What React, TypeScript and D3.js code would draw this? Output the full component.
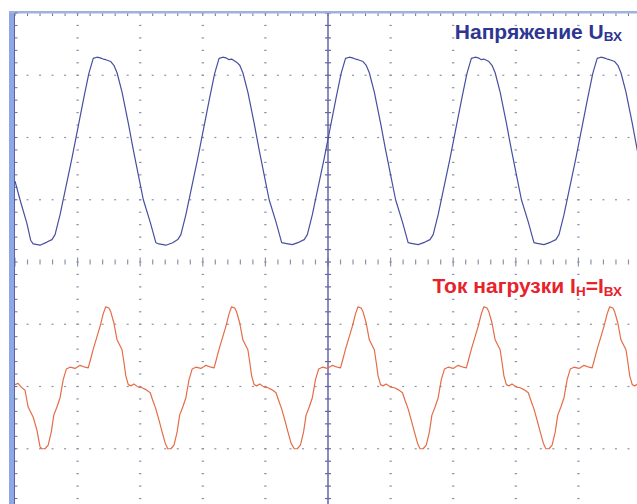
import { useEffect, useRef } from "react";
import * as d3 from "d3";

const W = 637;
const H = 504;

// time in ms (10 ms per division), amplitude in screen divisions from the centre line
const voltageTrace: [number, number][] = [
  [0, 1.3], [0.8, 1.0], [1.9, 0.62], [2.5, 0.35],
  [2.9, 0.29], [4.0, 0.27], [5.1, 0.32], [5.9, 0.36], [6.4, 0.44], [7.2, 0.76], [9.1, 1.67], [11.0, 2.64], [11.8, 3.03],
  [12.5, 3.27], [13.1, 3.29], [13.6, 3.28], [14.1, 3.26], [14.5, 3.25], [15.3, 3.22], [15.8, 3.16], [16.3, 3.04],
  [17.1, 2.73], [18.1, 2.23], [18.9, 1.8], [19.7, 1.4], [20.5, 1.0], [21.6, 0.64], [22.5, 0.31],
  [23.0, 0.29], [24.1, 0.27], [25.2, 0.31], [26.0, 0.36], [26.5, 0.44], [27.3, 0.76], [29.2, 1.67], [31.1, 2.64], [31.9, 3.03],
  [32.6, 3.27], [33.2, 3.29], [33.7, 3.28], [34.2, 3.25], [34.6, 3.26], [35.4, 3.21], [35.9, 3.16], [36.4, 3.04],
  [37.2, 2.73], [38.2, 2.23], [39.0, 1.8], [39.8, 1.4], [40.6, 1.0], [41.7, 0.64], [42.6, 0.31],
  [43.2, 0.3], [44.3, 0.28], [45.4, 0.32], [46.2, 0.36], [46.7, 0.44], [47.5, 0.76], [49.4, 1.67], [51.3, 2.64], [52.1, 3.03],
  [52.8, 3.27], [53.4, 3.29], [53.9, 3.28], [54.4, 3.26], [54.8, 3.25], [55.6, 3.22], [56.1, 3.16], [56.6, 3.04],
  [57.4, 2.73], [58.4, 2.23], [59.2, 1.8], [60.0, 1.4], [60.8, 1.0], [61.9, 0.64], [62.8, 0.31],
  [63.3, 0.3], [64.4, 0.28], [65.5, 0.32], [66.3, 0.36], [66.8, 0.44], [67.6, 0.76], [69.5, 1.67], [71.4, 2.64], [72.2, 3.03],
  [72.9, 3.27], [73.5, 3.29], [74.0, 3.28], [74.5, 3.25], [74.9, 3.26], [75.7, 3.22], [76.2, 3.16], [76.7, 3.04],
  [77.5, 2.73], [78.5, 2.23], [79.3, 1.8], [80.1, 1.4], [80.9, 1.0], [82.0, 0.64], [82.9, 0.31],
  [83.4, 0.3], [84.5, 0.28], [85.6, 0.32], [86.4, 0.36], [86.9, 0.44], [87.7, 0.76], [89.6, 1.67], [91.5, 2.64], [92.3, 3.03],
  [93.0, 3.27], [93.6, 3.29], [94.1, 3.28], [94.6, 3.26], [95.0, 3.25], [95.8, 3.22], [96.3, 3.16], [96.8, 3.04],
  [97.6, 2.73], [98.6, 2.23], [99.4, 1.8], [100.2, 1.4],
];

const currentTrace: [number, number][] = [
  [0, -1.97], [0.5, -1.95], [1.0, -2.01], [1.6, -2.06], [2.1, -2.33], [2.9, -2.49], [3.5, -2.7],
  [4.0, -2.97], [4.3, -3.0], [4.8, -3.0], [5.3, -2.94], [5.8, -2.73], [6.2, -2.46], [6.7, -2.33], [7.2, -2.18], [7.7, -1.89],
  [8.2, -1.72], [8.8, -1.69], [9.6, -1.71], [10.4, -1.66], [11.2, -1.69], [11.7, -1.7], [12.0, -1.59], [12.5, -1.4],
  [13.1, -1.2], [13.6, -1.03], [14.1, -0.83], [14.5, -0.72], [15.0, -0.74], [15.3, -0.8], [15.8, -0.98], [16.3, -1.25],
  [16.8, -1.35], [17.1, -1.41], [17.4, -1.61], [17.7, -1.83], [18.1, -1.97], [18.5, -1.99], [19.0, -1.96], [19.7, -2.01],
  [20.3, -2.02], [20.9, -2.05], [21.6, -2.1], [22.0, -2.22], [22.5, -2.36], [23.0, -2.54], [23.5, -2.73], [24.0, -2.91],
  [24.4, -3.0], [24.9, -3.0], [25.4, -2.94], [25.9, -2.73], [26.3, -2.46], [26.8, -2.33], [27.3, -2.18], [27.8, -1.89],
  [28.3, -1.72], [28.9, -1.69], [29.7, -1.71], [30.5, -1.66], [31.3, -1.69], [31.8, -1.7], [32.1, -1.59], [32.6, -1.4],
  [33.2, -1.2], [33.7, -1.03], [34.2, -0.83], [34.6, -0.72], [35.1, -0.74], [35.4, -0.8], [35.9, -0.98], [36.4, -1.25],
  [36.9, -1.35], [37.2, -1.41], [37.5, -1.61], [37.8, -1.83], [38.2, -1.97], [38.6, -1.99], [39.1, -1.96], [39.8, -2.01],
  [40.4, -2.02], [41.0, -2.05], [41.7, -2.1], [42.1, -2.22], [42.6, -2.36], [43.1, -2.54], [43.6, -2.73], [44.1, -2.91],
  [44.6, -3.0], [45.1, -3.0], [45.6, -2.94], [46.1, -2.73], [46.5, -2.46], [47.0, -2.33], [47.5, -2.18], [48.0, -1.89],
  [48.5, -1.72], [49.1, -1.69], [49.9, -1.71], [50.7, -1.66], [51.5, -1.69], [52.0, -1.7], [52.3, -1.59], [52.8, -1.4],
  [53.4, -1.2], [53.9, -1.03], [54.4, -0.83], [54.8, -0.72], [55.3, -0.74], [55.6, -0.8], [56.1, -0.98], [56.6, -1.25],
  [57.1, -1.35], [57.4, -1.41], [57.7, -1.61], [58.0, -1.83], [58.4, -1.97], [58.8, -1.99], [59.3, -1.96], [60.0, -2.01],
  [60.6, -2.02], [61.2, -2.05], [61.9, -2.1], [62.3, -2.22], [62.8, -2.36], [63.3, -2.54], [63.8, -2.73], [64.3, -2.91],
  [64.7, -3.0], [65.2, -3.0], [65.7, -2.94], [66.2, -2.73], [66.6, -2.46], [67.1, -2.33], [67.6, -2.18], [68.1, -1.89],
  [68.6, -1.72], [69.2, -1.69], [70.0, -1.71], [70.8, -1.66], [71.6, -1.69], [72.1, -1.7], [72.4, -1.59], [72.9, -1.4],
  [73.5, -1.2], [74.0, -1.03], [74.5, -0.83], [74.9, -0.72], [75.4, -0.74], [75.7, -0.8], [76.2, -0.98], [76.7, -1.25],
  [77.2, -1.35], [77.5, -1.41], [77.8, -1.61], [78.1, -1.83], [78.5, -1.97], [78.9, -1.99], [79.4, -1.96], [80.1, -2.01],
  [80.7, -2.02], [81.3, -2.05], [82.0, -2.1], [82.4, -2.22], [82.9, -2.36], [83.4, -2.54], [83.9, -2.73], [84.4, -2.91],
  [84.8, -3.0], [85.3, -3.0], [85.8, -2.94], [86.3, -2.73], [86.7, -2.46], [87.2, -2.33], [87.7, -2.18], [88.2, -1.89],
  [88.7, -1.72], [89.3, -1.69], [90.1, -1.71], [90.9, -1.66], [91.7, -1.69], [92.2, -1.7], [92.5, -1.59], [93.0, -1.4],
  [93.6, -1.2], [94.1, -1.03], [94.6, -0.83], [95.0, -0.72], [95.5, -0.74], [95.8, -0.8], [96.3, -0.98], [96.8, -1.25],
  [97.3, -1.35], [97.6, -1.41], [97.9, -1.61], [98.2, -1.83], [98.6, -1.97], [99.0, -1.99], [99.5, -1.96], [100.2, -2.01],
];

const timeRange = [0, 100];
const divRange = [-4, 4];
const gridTimes = [10, 20, 30, 40, 60, 70, 80, 90];
const gridDivs = [-3, -2, -1, 1, 2, 3];

const voltageLabel = ["Напряжение U", "ВХ"];
const currentLabel = ["Ток нагрузки I", "Н", "=I", "ВХ"];

export default function App() {
  const svgRef = useRef<SVGSVGElement>(null);

  useEffect(() => {
    if (!svgRef.current) return;
    const svg = d3.select(svgRef.current);
    svg.selectAll("*").remove();

    const x = d3.scaleLinear().domain(timeRange).range([15, 641]);
    const y = d3.scaleLinear().domain(divRange).range([511, 13]);

    svg.append("rect").attr("width", W).attr("height", H).attr("fill", "#fff");

    const minorT = d3.range(timeRange[0], timeRange[1] + 0.01, 2);
    const minorV = d3.range(divRange[0], divRange[1] + 0.01, 0.2);
    const grid = svg.append("g").attr("fill", "#8c93ab");

    // dotted graticule
    gridDivs.forEach((v) => {
      grid.selectAll(null).data(minorT).enter().append("rect")
        .attr("x", (t) => x(t) - 1).attr("y", y(v) - 0.6)
        .attr("width", 2).attr("height", 1.2);
    });
    gridTimes.forEach((t) => {
      grid.selectAll(null).data(minorV).enter().append("rect")
        .attr("x", x(t) - 1.2).attr("y", (v) => y(v) - 0.6)
        .attr("width", 2.4).attr("height", 1.2);
    });

    // centre horizontal tick row
    grid.selectAll(null).data(minorT).enter().append("line")
      .attr("x1", (t) => x(t)).attr("x2", (t) => x(t))
      .attr("y1", (t) => y(0) - (t % 10 === 0 ? 4.5 : 2.5))
      .attr("y2", (t) => y(0) + (t % 10 === 0 ? 4.5 : 2.5))
      .attr("stroke", "#8c93ab").attr("stroke-width", 1.2);

    // centre vertical solid line with ticks
    svg.append("line")
      .attr("x1", x(50)).attr("x2", x(50)).attr("y1", y(4)).attr("y2", y(-4))
      .attr("stroke", "#6466a6").attr("stroke-width", 1.5);
    svg.append("g").selectAll("line").data(minorV).enter().append("line")
      .attr("x1", x(50) - 3).attr("x2", x(50) + 3)
      .attr("y1", (v) => y(v)).attr("y2", (v) => y(v))
      .attr("stroke", "#6466a6").attr("stroke-width", 1.2);

    // frame: top and left borders with minor ticks
    svg.append("rect").attr("x", 9).attr("y", 11).attr("width", 5).attr("height", H)
      .attr("fill", "#8ea8e6");
    svg.append("line").attr("x1", 14.5).attr("x2", 14.5).attr("y1", 12).attr("y2", H)
      .attr("stroke", "#5b63a8").attr("stroke-width", 1);
    svg.append("rect").attr("x", 9).attr("y", 11).attr("width", W).attr("height", 2.5)
      .attr("fill", "#9fb2de");
    svg.append("g").selectAll("line").data(minorT).enter().append("line")
      .attr("x1", (t) => x(t)).attr("x2", (t) => x(t)).attr("y1", 13.5).attr("y2", 16)
      .attr("stroke", "#6b7090").attr("stroke-width", 1);
    svg.append("g").selectAll("line").data(minorV).enter().append("line")
      .attr("x1", 15).attr("x2", 17.5).attr("y1", (v) => y(v)).attr("y2", (v) => y(v))
      .attr("stroke", "#6b7090").attr("stroke-width", 1);

    // traces
    const line = d3.line<[number, number]>()
      .x((d) => x(d[0]))
      .y((d) => y(d[1]));

    svg.append("path").datum(voltageTrace)
      .attr("fill", "none").attr("stroke", "#45509f").attr("stroke-width", 1.2)
      .attr("stroke-linejoin", "round").attr("d", line);

    svg.append("path").datum(currentTrace)
      .attr("fill", "none").attr("stroke", "#e46d48").attr("stroke-width", 1.2)
      .attr("stroke-linejoin", "round").attr("d", line);

    // labels
    const font = "'Liberation Sans', Arial, sans-serif";
    const vt = svg.append("text").attr("x", 622).attr("y", 38.5)
      .attr("text-anchor", "end").attr("font-family", font).attr("font-weight", "bold")
      .attr("font-size", 21).attr("fill", "#2e3592");
    vt.append("tspan").text(voltageLabel[0]);
    vt.append("tspan").attr("font-size", 13.5).attr("dy", 2.5).text(voltageLabel[1]);

    const ct = svg.append("text").attr("x", 622).attr("y", 293)
      .attr("text-anchor", "end").attr("font-family", font).attr("font-weight", "bold")
      .attr("font-size", 21).attr("fill", "#e8222c");
    ct.append("tspan").text(currentLabel[0]);
    ct.append("tspan").attr("font-size", 13.5).attr("dy", 3).text(currentLabel[1]);
    ct.append("tspan").attr("dy", -3).text(currentLabel[2]);
    ct.append("tspan").attr("font-size", 13.5).attr("dy", 3).text(currentLabel[3]);
  }, []);

  return (
    <div style={{ position: "absolute", left: 0, top: 0 }}>
      <svg ref={svgRef} width={W} height={H} viewBox={`0 0 ${W} ${H}`} style={{ display: "block" }} />
    </div>
  );
}
